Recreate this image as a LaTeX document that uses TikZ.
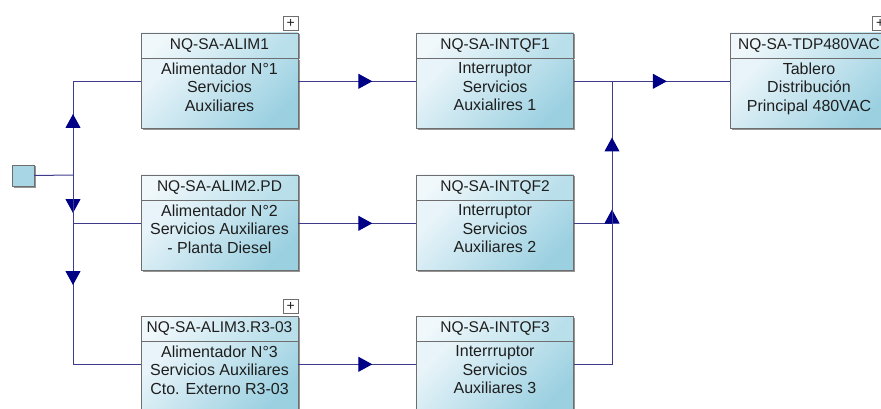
\documentclass[tikz,border=0pt]{standalone}
\usepackage{fontspec}
\setmainfont{Liberation Sans}
\usetikzlibrary{arrows.meta,decorations.markings,shadows}
\definecolor{lnc}{RGB}{62,58,140}
\definecolor{arc}{RGB}{0,0,135}
\definecolor{bxlight}{RGB}{232,244,249}
\definecolor{bxdark}{RGB}{155,208,225}
\definecolor{hdlight}{RGB}{240,248,251}
\definecolor{hddark}{RGB}{185,223,235}
\definecolor{bord}{RGB}{110,110,110}
\definecolor{txt}{RGB}{30,30,30}
\definecolor{srcfill}{RGB}{168,214,228}
\begin{document}
\begin{tikzpicture}[x=1pt,y=-1pt,
  boxshadow/.style={drop shadow={shadow xshift=1.5pt,shadow yshift=-1.5pt,fill=black!60,opacity=0.7}},
  hdr/.style={draw=bord, line width=0.6pt, top color=hdlight, bottom color=hddark, shading angle=45,
    minimum width=157pt, minimum height=25pt, inner sep=0pt,
    font=\fontsize{15.5}{18.5}\selectfont, text=txt, boxshadow},
  bodyb/.style={draw=bord, line width=0.6pt, top color=bxlight, bottom color=bxdark, shading angle=45,
    minimum width=157pt, minimum height=70pt, inner sep=0pt, boxshadow, anchor=north},
  btext/.style={align=center, inner sep=0pt, font=\fontsize{16}{18.5}\selectfont, text=txt, anchor=north},
  plusbox/.style={draw=bord, fill=white, minimum width=15pt, minimum height=14pt, inner sep=0pt,
    font=\fontsize{14}{14}\selectfont, text=txt, anchor=south east},
  conn/.style={draw=lnc, line width=1pt},
  arr/.style={postaction={decorate}, decoration={markings,
    mark=at position #1 with {\arrow{Triangle[width=15pt,length=14pt,color=arc]}}}}
]
\useasboundingbox (0,0) rectangle (881,409);
\clip (0,0) rectangle (881,409);

% source
\node[draw=bord, fill=srcfill, minimum width=22pt, minimum height=21pt, inner sep=0pt, boxshadow] (src) at (23,175.5) {};

% column A
\node[hdr] (a1h) at (219.5,45.5) {NQ-SA-ALIM1};
\node[bodyb] (a1) at (a1h.south) {};
\node[btext] (a1t) at ([yshift=-4pt]a1.north) {Alimentador N°1\\Servicios\\Auxiliares};
\node[plusbox] (a1p) at ([yshift=2pt]a1h.north east) {+};

\node[hdr] (a2h) at (219.5,187.5) {NQ-SA-ALIM2.PD};
\node[bodyb] (a2) at (a2h.south) {};
\node[btext] (a2t) at ([yshift=-4pt]a2.north) {Alimentador N°2\\Servicios Auxiliares\\- Planta Diesel};

\node[hdr] (a3h) at (219.5,328.5) {NQ-SA-ALIM3.R3-03};
\node[bodyb] (a3) at (a3h.south) {};
\node[btext] (a3t) at ([yshift=-4pt]a3.north) {Alimentador N°3\\Servicios Auxiliares\\Cto. Externo R3-03};
\node[plusbox] (a3p) at ([yshift=2pt]a3h.north east) {+};

% column B
\node[hdr] (q1h) at (495,45.5) {NQ-SA-INTQF1};
\node[bodyb] (q1) at (q1h.south) {};
\node[btext] (q1t) at ([yshift=-4pt]q1.north) {Interruptor\\Servicios\\Auxialires 1};

\node[hdr] (q2h) at (495,187.5) {NQ-SA-INTQF2};
\node[bodyb] (q2) at (q2h.south) {};
\node[btext] (q2t) at ([yshift=-4pt]q2.north) {Interruptor\\Servicios\\Auxiliares 2};

\node[hdr] (q3h) at (495,328.5) {NQ-SA-INTQF3};
\node[bodyb] (q3) at (q3h.south) {};
\node[btext] (q3t) at ([yshift=-4pt]q3.north) {Interrruptor\\Servicios\\Auxiliares 3};

% column C
\node[hdr] (th) at (809,45.5) {NQ-SA-TDP480VAC};
\node[bodyb] (t) at (th.south) {};
\node[btext] (tt) at ([yshift=-4pt]t.north) {Tablero\\Distribución\\Principal 480VAC};
\node[plusbox] (tp) at ([yshift=2pt]th.north east) {+};

% connectors
\coordinate (J) at (73,175);
\coordinate (K) at (612,81);
\draw[conn] (src.east) -- (J);
\draw[conn, arr=61pt] (J) |- ([yshift=-23pt]a1.north west);
\draw[conn, arr=38pt] (J) |- ([yshift=-23pt]a2.north west);
\draw[conn, arr=110pt] (J) |- ([yshift=-23pt]a3.north west);
\draw[conn, arr=74pt] ([yshift=-23pt]a1.north east) -- ([yshift=-23pt]q1.north west);
\draw[conn, arr=74pt] ([yshift=-23pt]a2.north east) -- ([yshift=-23pt]q2.north west);
\draw[conn, arr=74pt] ([yshift=-23pt]a3.north east) -- ([yshift=-23pt]q3.north west);
\draw[conn, arr=93pt] ([yshift=-23pt]q1.north east) -- ([yshift=-23pt]t.north west);
\draw[conn, arr=52pt] ([yshift=-23pt]q2.north east) -| (K);
\draw[conn, arr=265pt] ([yshift=-23pt]q3.north east) -| (K);
\end{tikzpicture}
\end{document}
